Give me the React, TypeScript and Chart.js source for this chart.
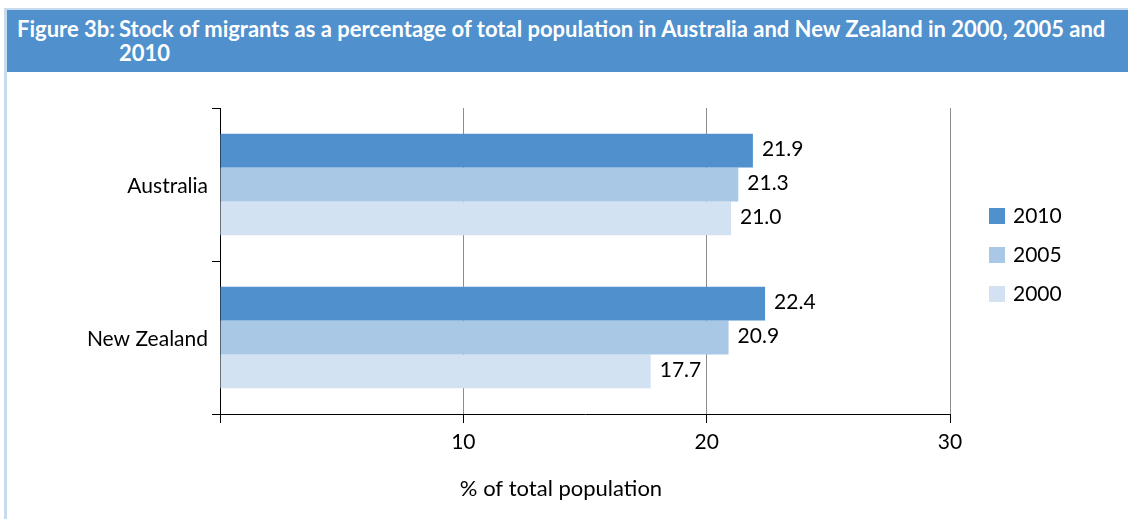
import React, { useEffect, useRef } from 'react';
import { Chart, registerables } from 'chart.js';
Chart.register(...registerables);

const categories = ['Australia', 'New Zealand'];
const seriesLabels = ['2010', '2005', '2000'];
const values2010 = [21.9, 22.4];
const values2005 = [21.3, 20.9];
const values2000 = [21.0, 17.7];
const xMin = 0;
const xMax = 30;
const xStep = 10;
const titleLabel = 'Figure 3b:';
const titleLine1 = 'Stock of migrants as a percentage of total population in Australia and New Zealand in 2000, 2005 and';
const titleLine2 = '2010';
const xAxisTitle = '% of total population';

const seriesColors = ['#4F90CD', '#A8C8E6', '#D3E2F3'];
const FONT = 'Lato, "Open Sans", sans-serif';
const FS = 21;

const valueLabelPlugin = {
  id: 'valueLabels',
  afterDatasetsDraw(chart: any) {
    const ctx = chart.ctx;
    ctx.save();
    ctx.font = `${FS}px ${FONT}`;
    ctx.fillStyle = '#000';
    ctx.textAlign = 'left';
    ctx.textBaseline = 'middle';
    chart.data.datasets.forEach((ds: any, i: number) => {
      const meta = chart.getDatasetMeta(i);
      meta.data.forEach((bar: any, j: number) => {
        const v = ds.data[j];
        ctx.fillText(Number(v).toFixed(1), bar.x + 9, bar.y - 1);
      });
    });
    ctx.restore();
  },
};

const extrasPlugin = {
  id: 'extras',
  afterDraw(chart: any) {
    const ctx = chart.ctx;
    const area = chart.chartArea;
    ctx.save();
    ctx.font = `22px ${FONT}`;
    ctx.fillStyle = '#000';
    ctx.textAlign = 'center';
    ctx.textBaseline = 'middle';
    ctx.fillText(xAxisTitle, area.left + 341, area.bottom + 75);
    ctx.font = `${FS}px ${FONT}`;
    const lx = area.right + 39;
    const ly = area.top + 108;
    chart.data.datasets.forEach((ds: any, i: number) => {
      const cy = ly + i * 39;
      ctx.fillStyle = ds.backgroundColor;
      ctx.fillRect(lx, cy - 8, 16, 16);
      ctx.fillStyle = '#000';
      ctx.textAlign = 'left';
      ctx.fillText(ds.label, lx + 24, cy);
    });
    ctx.restore();
  },
};

export default function App() {
  const ref = useRef<HTMLCanvasElement>(null);
  useEffect(() => {
    if (!ref.current) return;
    const chart = new Chart(ref.current, {
      type: 'bar',
      data: {
        labels: categories,
        datasets: [
          { label: seriesLabels[0], data: values2010, backgroundColor: seriesColors[0], barPercentage: 1, categoryPercentage: 0.664 },
          { label: seriesLabels[1], data: values2005, backgroundColor: seriesColors[1], barPercentage: 1, categoryPercentage: 0.664 },
          { label: seriesLabels[2], data: values2000, backgroundColor: seriesColors[2], barPercentage: 1, categoryPercentage: 0.664 },
        ],
      },
      options: {
        indexAxis: 'y',
        responsive: false,
        animation: false,
        devicePixelRatio: 1,
        layout: { padding: { left: 0, top: 36, right: 178, bottom: 0 } },
        plugins: {
          legend: { display: false },
          title: { display: false },
          tooltip: { enabled: false },
        },
        scales: {
          x: {
            type: 'linear',
            min: xMin,
            max: xMax,
            ticks: {
              stepSize: xStep,
              color: '#000',
              font: { family: FONT, size: FS },
              padding: 7,
              callback: (v: any) => (v === 0 ? '' : String(v)),
            },
            grid: {
              color: (c: any) => (c.tick && c.tick.value === 0 ? 'rgba(0,0,0,0)' : '#8C8C8C'),
              tickColor: '#000',
              tickLength: 9,
              lineWidth: 1,
            },
            border: { color: '#000', width: 1 },
            afterFit: (s: any) => { s.height = 105; },
          },
          y: {
            type: 'category',
            ticks: { color: '#000', font: { family: FONT, size: FS }, padding: 4, labelOffset: 2 },
            grid: { drawOnChartArea: false, color: '#000', tickLength: 8, offset: true },
            border: { color: '#000', width: 1 },
            afterFit: (s: any) => { s.width = 212; },
          },
        },
      },
      plugins: [valueLabelPlugin, extrasPlugin],
    } as any);
    return () => chart.destroy();
  }, []);

  return (
    <div style={{ position: 'fixed', left: 0, top: 0, width: 1128, height: 519, background: '#fff', overflow: 'hidden', fontFamily: FONT }}>
      <div style={{ position: 'absolute', left: 4, top: 8, width: 3, height: 511, background: '#C6DAF0' }} />
      <div style={{ position: 'absolute', left: 4, top: 8, width: 1124, height: 2, background: '#C6DAF0' }} />
      <div style={{ position: 'absolute', left: 7, top: 10, width: 1121, height: 62, background: '#4F90CD', color: '#fff', fontWeight: 700, fontSize: 22, lineHeight: '24px', boxSizing: 'border-box', paddingTop: 7, paddingLeft: 10, display: 'flex' }}>
        <div style={{ width: 102, flex: 'none', whiteSpace: 'nowrap' }}>{titleLabel}</div>
        <div style={{ whiteSpace: 'nowrap' }}>
          {titleLine1}
          <br />
          {titleLine2}
        </div>
      </div>
      <div style={{ position: 'absolute', left: 8, top: 72 }}>
        <canvas ref={ref} width={1120} height={447} style={{ display: 'block', width: 1120, height: 447 }} />
      </div>
    </div>
  );
}
